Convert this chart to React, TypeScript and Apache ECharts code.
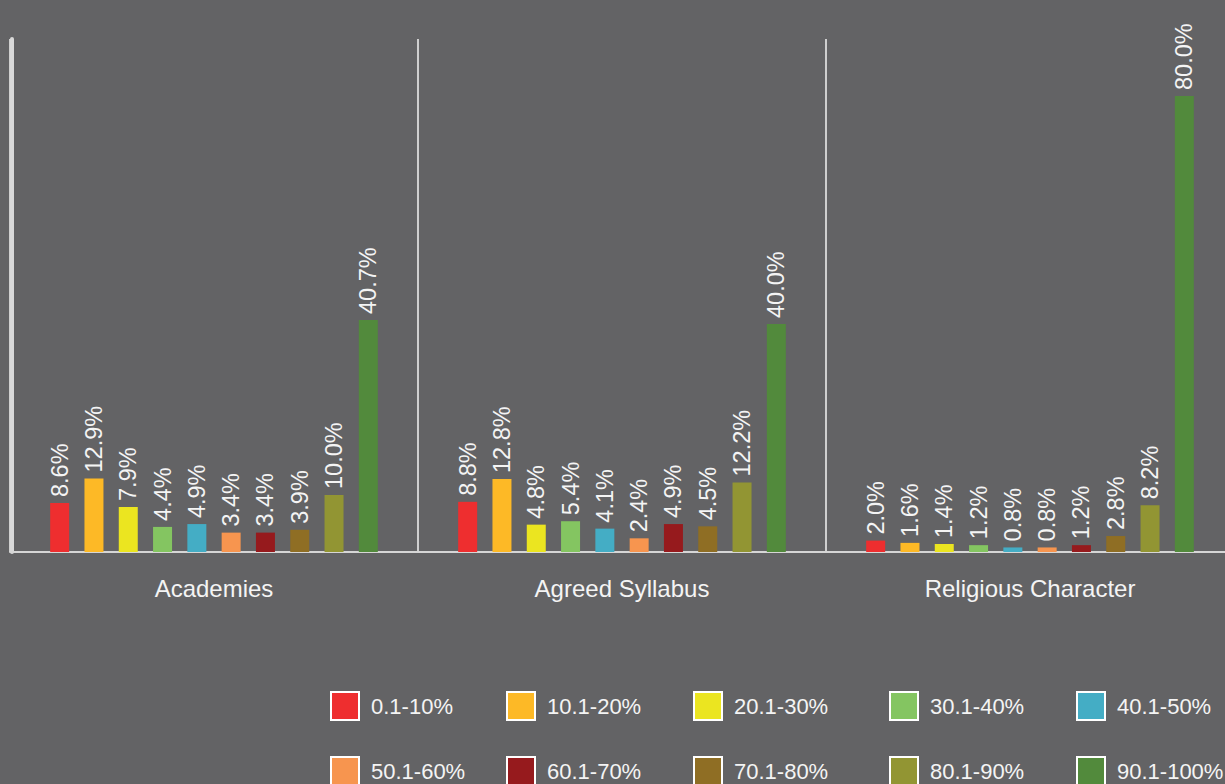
import React, { useEffect, useRef } from "react";
import * as echarts from "echarts";

const categories = ["Academies", "Agreed Syllabus", "Religious Character"];
const seriesNames = [
  "0.1-10%", "10.1-20%", "20.1-30%", "30.1-40%", "40.1-50%",
  "50.1-60%", "60.1-70%", "70.1-80%", "80.1-90%", "90.1-100%",
];
const seriesColors = [
  "#ee2e2f", "#fdb926", "#ebe520", "#84c561", "#44adc5",
  "#f7954f", "#961a1d", "#8f6e24", "#929533", "#528a3c",
];
// values per series: [Academies, Agreed Syllabus, Religious Character]
const values0 = [8.6, 8.8, 2.0];
const values1 = [12.9, 12.8, 1.6];
const values2 = [7.9, 4.8, 1.4];
const values3 = [4.4, 5.4, 1.2];
const values4 = [4.9, 4.1, 0.8];
const values5 = [3.4, 2.4, 0.8];
const values6 = [3.4, 4.9, 1.2];
const values7 = [3.9, 4.5, 2.8];
const values8 = [10.0, 12.2, 8.2];
const values9 = [40.7, 40.0, 80.0];
const seriesValues = [values0, values1, values2, values3, values4, values5, values6, values7, values8, values9];

const legendLefts = [330, 506, 693, 889, 1076];
const legendTops = [691, 756];

export default function App() {
  const ref = useRef<HTMLDivElement>(null);
  useEffect(() => {
    if (!ref.current) return;
    const chart = echarts.init(ref.current, null, { renderer: "svg" });
    const textColor = "#f4f4f4";
    const font = "'Liberation Sans', Arial, Helvetica, sans-serif";
    chart.setOption({
      animation: false,
      backgroundColor: "#636365",
      textStyle: { fontFamily: font },
      grid: {
        left: 10,
        top: 39,
        width: 1224,
        bottom: 232,
        containLabel: false,
        outerBoundsMode: "none",
      },
      xAxis: {
        type: "category",
        data: categories,
        axisLine: { show: true, lineStyle: { color: "#d6d6d6", width: 2 } },
        axisTick: { show: false },
        splitLine: { show: true, lineStyle: { color: "#cfcfcf", width: 2 } },
        axisLabel: { color: textColor, fontSize: 24, margin: 24, fontFamily: font },
      },
      yAxis: {
        type: "value",
        min: 0,
        max: 90,
        offset: -2,
        axisLine: { show: true, lineStyle: { color: "#d9d9d9", width: 4 } },
        axisTick: { show: false },
        axisLabel: { show: false },
        splitLine: { show: false },
      },
      legend: seriesNames.map((name, i) => ({
        orient: "horizontal",
        left: legendLefts[i % 5],
        top: legendTops[Math.floor(i / 5)],
        padding: 0,
        itemWidth: 28,
        itemHeight: 28,
        icon: "rect",
        selectedMode: false,
        itemStyle: { borderColor: "#ffffff", borderWidth: 2 },
        textStyle: { color: textColor, fontSize: 22, fontFamily: font, padding: [0, 0, 0, 7] },
        data: [name],
      })),
      series: seriesNames.map((name, i) => ({
        type: "bar",
        name,
        data: seriesValues[i],
        barWidth: 19,
        barGap: "80.5%",
        itemStyle: { color: seriesColors[i] },
        label: {
          show: true,
          position: "top",
          rotate: 90,
          align: "left",
          verticalAlign: "middle",
          distance: 6,
          color: textColor,
          fontSize: 23.5,
          fontFamily: font,
          formatter: (p: any) => Number(p.value).toFixed(1) + "%",
        },
      })),
    });
    return () => chart.dispose();
  }, []);
  return (
    <div
      ref={ref}
      style={{ position: "fixed", left: 0, top: 0, width: 1225, height: 784 }}
    />
  );
}
